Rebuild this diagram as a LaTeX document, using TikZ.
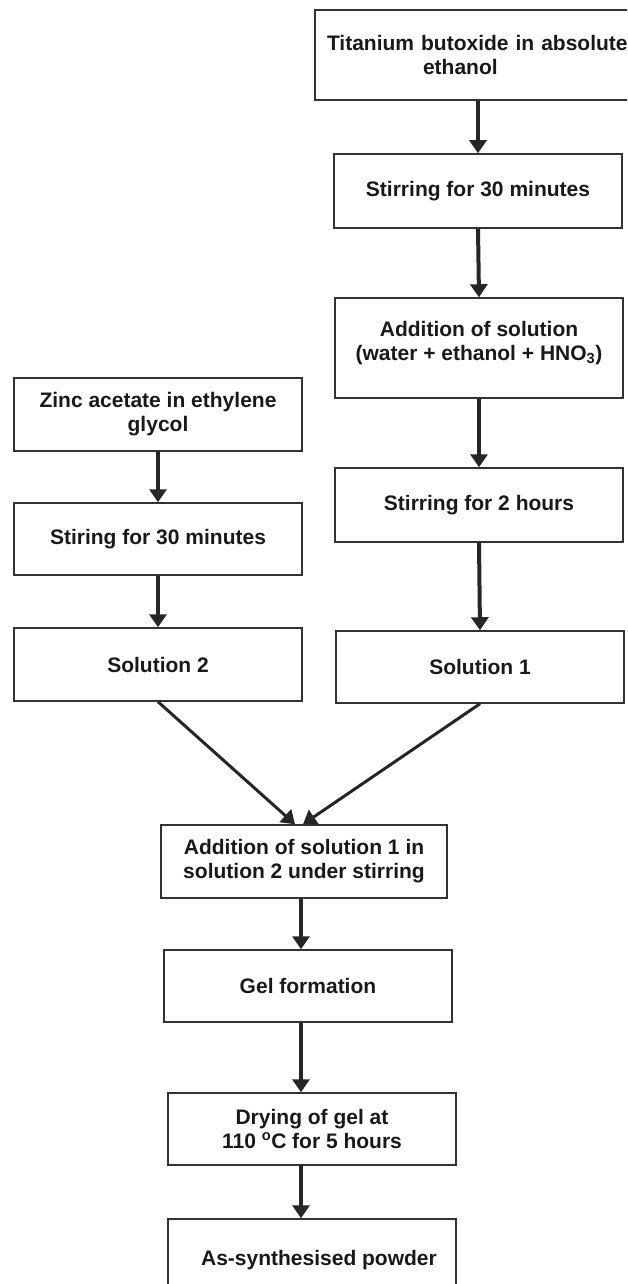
\documentclass[tikz,border=0pt]{standalone}
\usepackage{fontspec}
\setmainfont{Liberation Sans}
\usetikzlibrary{arrows.meta}
\begin{document}
\begin{tikzpicture}[x = 1pt, y = -1pt,
        box/.style = {draw = black!80, line width = 1.5pt, minimum width = 288pt, minimum height = 72pt,
            inner sep = 0pt, align = center, text = black!90, font = \fontsize{21}{24}\selectfont\bfseries},
        arr/.style = {draw = black!85, line width = 4pt, -{Triangle[width = 17pt, length = 13pt]}},
        slant/.style = {arr, line width = 3pt}]
                        \clip (0, 0) rectangle (627, 1284);
                        \node [box, minimum width = 344pt, minimum height = 90pt, text width = 320pt, align = left] (ti) at (487, 55)
                            {Titanium butoxide in absolute\\\hspace*{96pt}ethanol\\[6pt]};
                        \node [box, minimum height = 74pt] (stira) at (478, 191) {Stirring for 30 minutes};
                        \node [box, minimum height = 100pt] (addsol) at (479, 348) {Addition of solution\\(water + ethanol + HNO\textsubscript{3})\\[-10pt]};
                        \node [box, minimum height = 74pt] (stirb) at (479, 505) {Stirring for 2 hours};
                        \node [box] (solone) at (480, 667) {Solution 1};
                        \node [box, minimum height = 73pt] (zinc) at (158, 414.5) {Zinc acetate in ethylene\\glycol};
                        \node [box] (stirc) at (158, 539) {Stiring for 30 minutes};
                        \node [box, minimum height = 73pt] (soltwo) at (158, 664.5) {Solution 2};
                        \node [box, minimum width = 286pt, minimum height = 73pt] (mix) at (304, 861.5) {Addition of solution 1 in\\solution 2 under stirring};
                        \node [box] (gel) at (308, 986) {Gel formation};
                        \node [box] (dry) at (312, 1129) {Drying of gel at\\110 \textsuperscript{o}C for 5 hours};
                        \node [box, minimum height = 82pt] (powder) at (312, 1260) {\hspace*{14pt}As-synthesised powder};
                        \draw [arr] (ti.south -| stira.north) -- (stira.north);
                        \draw [arr] (stira.south) -- (addsol.north);
                        \draw [arr] (addsol.south) -- (stirb.north);
                        \draw [arr] (stirb.south) -- (solone.north);
                        \draw [arr] (zinc.south) -- (stirc.north);
                        \draw [arr] (stirc.south) -- (soltwo.north);
                        \draw [slant] (soltwo.south) -- ([xshift = -9pt] mix.north);
                        \draw [slant] (solone.south) -- ([xshift = -1pt] mix.north);
                        \draw [arr] ([xshift = -3pt] mix.south) -- ([xshift = -3pt] mix.south |- gel.north);
                        \draw [arr] (gel.south -| mix.south) ++ (-3, 0) -- ([xshift = -3pt] mix.south |- dry.north);
                        \draw [arr] (dry.south -| mix.south) ++ (-3, 0) -- ([xshift = -3pt] mix.south |- powder.north);
                    \end{tikzpicture}
\end{document}
